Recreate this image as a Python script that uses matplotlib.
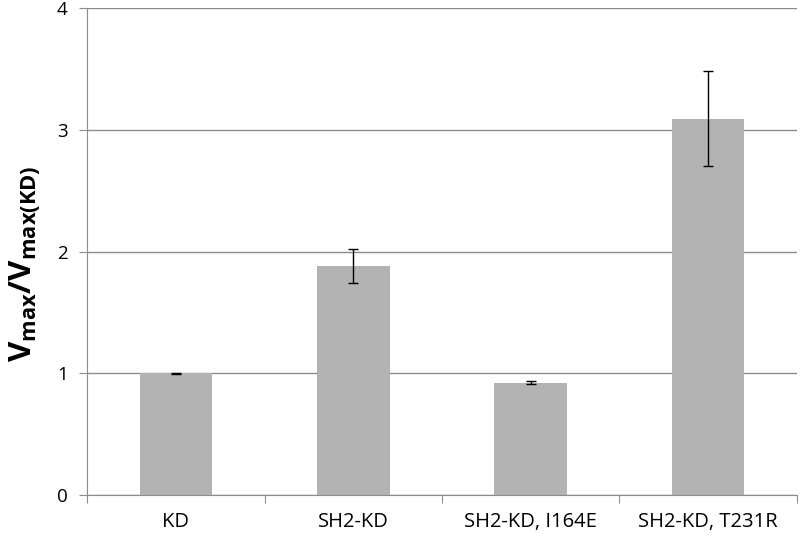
import matplotlib.pyplot as plt
import numpy as np

plt.rcParams['font.family'] = ['Open Sans', 'DejaVu Sans']
plt.rcParams['mathtext.fontset'] = 'custom'
plt.rcParams['mathtext.rm'] = 'Open Sans'
plt.rcParams['mathtext.bf'] = 'Open Sans:bold'

categories = ['KD', 'SH2-KD', 'SH2-KD, I164E', 'SH2-KD, T231R']
values = [1.0, 1.88, 0.925, 3.09]
errors = [0.005, 0.14, 0.015, 0.39]

fig = plt.figure(figsize=(8, 5.4), dpi=100)
ax = fig.add_axes([0.109, 0.083, 0.887, 0.902])

x = np.arange(len(categories))
ax.bar(x, values, width=0.41, color='#b3b3b3', zorder=2)
ax.errorbar(x, values, yerr=errors, fmt='none', ecolor='black', elinewidth=1,
            capsize=3.5, capthick=1, zorder=3)

ax.set_xlim(-0.5, len(categories) - 0.5)
ax.set_ylim(0, 4)
ax.set_yticks([0, 1, 2, 3, 4])
ax.yaxis.grid(True, color='#8c8c8c', linewidth=1)
ax.set_axisbelow(True)

# category labels between boundary ticks
ax.set_xticks(np.arange(len(categories) + 1) - 0.5)
ax.set_xticklabels([])
ax.set_xticks(x, minor=True)
ax.set_xticklabels(categories, minor=True)
ax.tick_params(axis='x', which='minor', length=0, pad=12, labelsize=14.5)
ax.tick_params(axis='x', which='major', length=6, color='#8c8c8c')
ax.tick_params(axis='y', length=6, color='#8c8c8c', labelsize=13.5, pad=8)

for s in ['top', 'right']:
    ax.spines[s].set_visible(False)
ax.spines['left'].set_color('#8c8c8c')
ax.spines['bottom'].set_color('#8c8c8c')

ax.set_ylabel(r'$\mathbf{V_{max}/V_{max(KD)}}$', fontsize=22.5)
ax.yaxis.set_label_coords(-0.062, 0.475)

plt.savefig('out.png', dpi=100)
